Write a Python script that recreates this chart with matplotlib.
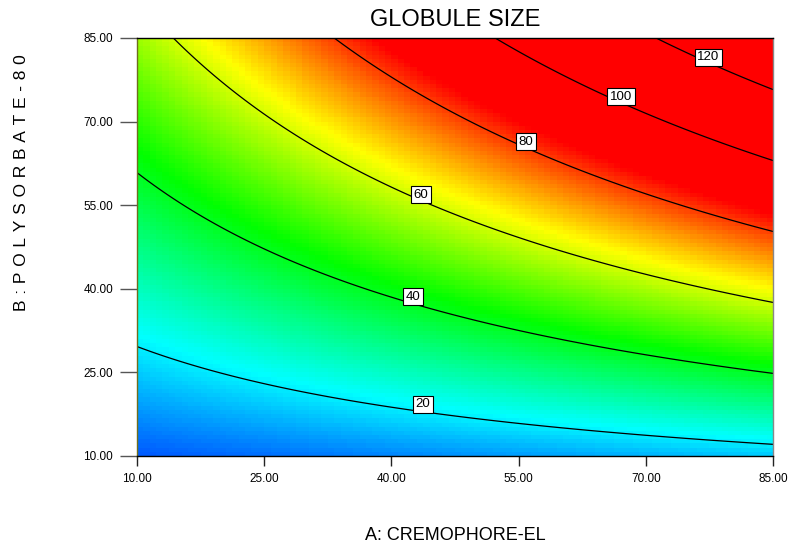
import numpy as np
import matplotlib
matplotlib.use("Agg")
import matplotlib.pyplot as plt
from matplotlib.colors import LinearSegmentedColormap

plt.rcParams['font.family'] = ['Liberation Sans', 'DejaVu Sans']

# ---- chart data ----
a_range = [10.0, 85.0]          # A: CREMOPHORE-EL
b_range = [10.0, 85.0]          # B: POLYSORBATE-80
tick_values = [10, 25, 40, 55, 70, 85]
tick_labels = ["10.00", "25.00", "40.00", "55.00", "70.00", "85.00"]
# response surface model (actual units): size = c0 + cA*A + cB*B + cAB*A*B
model_coefs = [1.0, 0.0, 0.517, 0.0124]
contour_levels = [20, 40, 60, 80, 100, 120]
label_A = [43.7, 42.6, 43.5, 55.85, 67.1, 77.4]
label_B = [19.3, 38.6, 56.9, 66.4, 74.5, 81.55]
color_range = [0.0, 85.0]


def response(A, B):
    c0, cA, cB, cAB = model_coefs
    return c0 + cA * A + cB * B + cAB * A * B


cmap = LinearSegmentedColormap.from_list(
    "de", [(0, 0, 1), (0, 1, 1), (0, 1, 0), (1, 1, 0), (1, 0, 0)])

W, H = 793, 548
PX = 72 / 100  # points per pixel
fig = plt.figure(figsize=(W / 100, H / 100), dpi=100)
ax = fig.add_axes([137 / W, 1 - 456 / H, 636 / W, 418 / H])

# coloured cells
n = 100
ae = np.linspace(a_range[0], a_range[1], n + 1)
be = np.linspace(b_range[0], b_range[1], n + 1)
ac = 0.5 * (ae[:-1] + ae[1:])
bc = 0.5 * (be[:-1] + be[1:])
AC, BC = np.meshgrid(ac, bc)
ax.pcolormesh(ae, be, response(AC, BC), cmap=cmap,
              vmin=color_range[0], vmax=color_range[1], shading='flat')

# contour lines
af = np.linspace(a_range[0], a_range[1], 400)
bf = np.linspace(b_range[0], b_range[1], 400)
AF, BF = np.meshgrid(af, bf)
cs = ax.contour(AF, BF, response(AF, BF), levels=contour_levels,
                colors='black', linewidths=0.9)
for lev, xa, yb in zip(contour_levels, label_A, label_B):
    ax.text(xa, yb, f"{lev}", ha='center', va='center', fontsize=9.5, zorder=5,
            bbox=dict(facecolor='white', edgecolor='black', linewidth=0.8,
                      boxstyle='square,pad=0.2'))

ax.set_xlim(a_range)
ax.set_ylim(b_range)
ax.set_xticks(tick_values)
ax.set_xticklabels(tick_labels)
ax.set_yticks(tick_values)
ax.set_yticklabels(tick_labels)
ax.tick_params(axis='x', length=10 * PX, width=1, pad=7 * PX, labelsize=8.5, color='#222222')
ax.tick_params(axis='y', length=17 * PX, width=1, pad=7 * PX, labelsize=8.5, color='#555555')

ax.spines['top'].set_color('black')
ax.spines['bottom'].set_color('black')
ax.spines['left'].set_color('#6e6e1e')
ax.spines['right'].set_color('#888888')
for s in ax.spines.values():
    s.set_linewidth(1)

fig.text(455 / W, 1 - 20 / H, "GLOBULE SIZE", ha='center', va='center', fontsize=17)
fig.text(455 / W, 1 - 535 / H, "A: CREMOPHORE-EL", ha='center', va='center', fontsize=13)
sp = "\u2004"
ylab = sp.join(list("B:POLYSORBATE-80"))
fig.text(22 / W, 1 - 183 / H, ylab, ha='center', va='center', rotation=90, fontsize=12.5)

fig.savefig("out.png", dpi=100)
